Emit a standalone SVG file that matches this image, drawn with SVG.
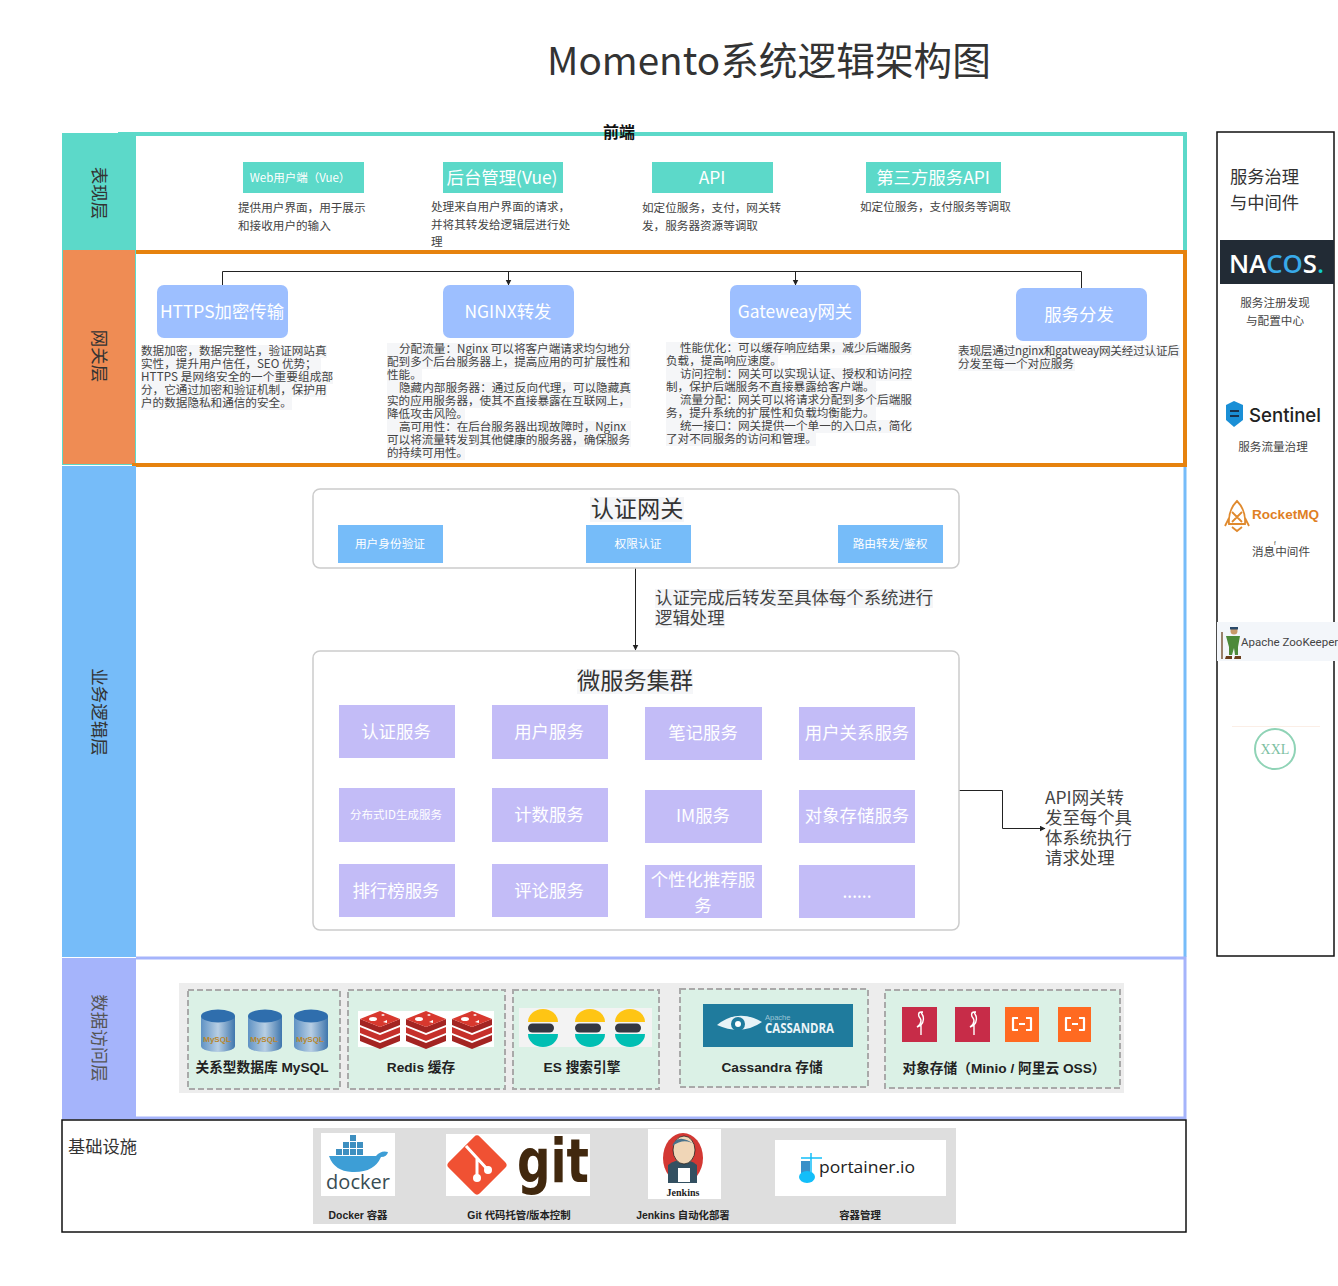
<svg xmlns="http://www.w3.org/2000/svg" width="1338" height="1286" viewBox="0 0 1338 1286">
<style>
text{font-family:"Noto Sans CJK SC","Noto Sans",sans-serif;fill:#333}
.c{text-anchor:middle}
.w{fill:#fff}
.d{font-size:11.6px;fill:#444}
.b{font-size:11.6px;fill:#444}
.v{font-size:17.5px;text-anchor:middle;fill:#333}
.box18{font-size:17.4px;fill:#fff;text-anchor:middle}
.svc{fill:#c3bcf7}
.gw{fill:#9dbfff}
.au{fill:#76bcf9}
.pt{fill:#5cd9c9}
.bg{fill:#f5f6f8}
.dash{fill:#dbf1e6;stroke:#a9a9a9;stroke-width:2;stroke-dasharray:6 3}
.lb{font-family:"Liberation Sans","Noto Sans CJK SC",sans-serif;font-weight:700;font-size:13.7px;fill:#222;text-anchor:middle}
.lb2{font-family:"Liberation Sans","Noto Sans CJK SC",sans-serif;font-weight:700;font-size:10.4px;fill:#222;text-anchor:middle}
.r{fill:none;stroke:#ccc;stroke-width:1.5}
.ln{fill:none;stroke:#222;stroke-width:1}
.note{font-size:17.4px;fill:#444}
.sd{font-size:11.6px;fill:#444;text-anchor:middle}
</style>
<defs>
<marker id="ah" markerWidth="7" markerHeight="7" refX="5.5" refY="3" orient="auto" markerUnits="userSpaceOnUse"><path d="M0 0L6 3L0 6z" fill="#222"/></marker>
<linearGradient id="cy" x1="0" x2="1" y1="0" y2="0"><stop offset="0" stop-color="#5f92c4"/><stop offset=".5" stop-color="#b8cfe4"/><stop offset="1" stop-color="#3f76ad"/></linearGradient>
<g id="mysql"><path d="M-17 -16V14A17 6 0 0 0 17 14V-16z" fill="url(#cy)"/><ellipse cx="0" cy="-16" rx="17" ry="6.500" fill="#2f6ead"/><text x="-1" y="10" class="c" style="font-size:8px;font-family:'Liberation Sans';font-weight:700;fill:#b8862c">MySQL</text></g>
<g id="redis"><path d="M-20 6L0 14L20 6V12L0 20L-20 12z" fill="#a32422"/><path d="M-20 -2L0 6L20 -2V4L0 12L-20 4z" fill="#c6302b"/><path d="M-20 -10L0 -2L20 -10V-4L0 4L-20 -4z" fill="#a32422"/><path d="M0 -18L20 -10L0 -2L-20 -10z" fill="#d8382e"/><ellipse cx="-7" cy="-10" rx="4" ry="2" fill="#fff"/><path d="M3 -15l2 1l-2 1l-2-1zM3 -7l4-2v3z" fill="#fff"/></g>
<g id="es"><path d="M-15 -6A15 13 0 0 1 15 -6z" fill="#fec514"/><rect x="-15" y="-4.500" width="26" height="9" rx="4.500" fill="#343741"/><path d="M-15 6H15A15 13 0 0 1 -15 6z" fill="#00bfb3"/></g>
<g id="minio"><path d="M2 -12c-3 0-3 4-1 6c2 3 1 6-3 9l4-2v10v-10c3-3 3-8 1-11c-1-1 0-2 1-2z" fill="none" stroke="#fff" stroke-width="1.400"/></g>
<g id="ali"><path d="M-4 -6H-9V6H-4M4 -6H9V6H4M-3 0H3" fill="none" stroke="#fff" stroke-width="2.200" stroke-linejoin="round"/></g>
</defs>
<rect width="1338" height="1286" fill="#fff"/>
<text id="title" x="547" y="75" style="font-size:38.7px;fill:#333">Momento系统逻辑架构图</text>

<g id="layer-presentation">
<rect x="62" y="133" width="74" height="117" fill="#5cd9c9"/>
<path d="M118 134H1185V250" fill="none" stroke="#5cd9c9" stroke-width="4"/>
<text class="v" transform="translate(93,193) rotate(90)">表现层</text>
<text x="619" y="138" class="c" style="font-size:16px;font-weight:700;fill:#111">前端</text>
</g>
<g id="layer-gateway">
<rect x="62.500" y="249.500" width="73" height="215" fill="#ef8c54" stroke="#5cd9c9"/>
<path d="M136 252H1185V465H132" fill="none" stroke="#e6820e" stroke-width="4"/>
<text class="v" transform="translate(93,356) rotate(90)">网关层</text>
</g>
<g id="layer-business">
<rect x="62" y="466" width="74" height="491" fill="#76bcf9"/>
<path d="M1185 467V957" fill="none" stroke="#76bcf9" stroke-width="3"/>
<text class="v" transform="translate(93,712) rotate(90)">业务逻辑层</text>
</g>
<g id="layer-data">
<rect x="62" y="958" width="74" height="160" fill="#a5b4fb"/>
<path d="M136 958H1185V1118H62" fill="none" stroke="#a5b4fb" stroke-width="3"/>
<text class="v" transform="translate(93,1038) rotate(90)" style="fill:#555">数据访问层</text>
</g>
<g id="layer-infra">
<rect x="62" y="1120" width="1124" height="112" fill="none" stroke="#111" stroke-width="1.500"/>
<text x="68" y="1153" style="font-size:17.300px">基础设施</text>
</g>

<g id="connectors">
<path class="ln" d="M222.500 285V271.500H1081.500V288"/>
<path class="ln" d="M508.500 271V285" marker-end="url(#ah)"/>
<path class="ln" d="M795.500 271V285" marker-end="url(#ah)"/>
<path class="ln" d="M635.500 568V650" marker-end="url(#ah)"/>
<path class="ln" d="M959 790.500H1002.500V828.500H1045" marker-end="url(#ah)"/>
</g>

<g id="node-web"><rect class="pt" x="243" y="162" width="121" height="31"/><text class="w c" x="300" y="182" style="font-size:11.500px">Web用户端（Vue）</text>
<text class="d" x="238" y="212">提供用户界面，用于展示</text><text class="d" x="238" y="230">和接收用户的输入</text></g>
<g id="node-admin"><rect class="pt" x="443" y="162" width="120" height="31"/><text class="box18" x="502" y="184">后台管理(Vue)</text>
<text class="d" x="431" y="211">处理来自用户界面的请求，</text><text class="d" x="431" y="229">并将其转发给逻辑层进行处</text><text class="d" x="431" y="246">理</text></g>
<g id="node-api"><rect class="pt" x="652" y="162" width="121" height="31"/><text class="box18" x="712" y="184">API</text>
<text class="d" x="642" y="212">如定位服务，支付，网关转</text><text class="d" x="642" y="230">发，服务器资源等调取</text></g>
<g id="node-third"><rect class="pt" x="866" y="162" width="135" height="31"/><text class="box18" x="933" y="184">第三方服务API</text>
<text class="d" x="860" y="211">如定位服务，支付服务等调取</text></g>

<g id="node-https"><rect class="gw" x="157" y="285" width="131" height="53" rx="7"/><text class="box18" x="222" y="318">HTTPS加密传输</text>
<path class="bg" d="M141 345H327V358H321V371H333V384H327V397H292V410H141z"/>
<text class="b" x="141" y="355">数据加密，数据完整性，验证网站真</text><text class="b" x="141" y="368">实性，提升用户信任，SEO 优势；</text><text class="b" x="141" y="381" textLength="192">HTTPS 是网络安全的一个重要组成部</text><text class="b" x="141" y="394">分，它通过加密和验证机制，保护用</text><text class="b" x="141" y="407">户的数据隐私和通信的安全。</text></g>
<g id="node-nginx"><rect class="gw" x="443" y="285" width="131" height="53" rx="7"/><text class="box18" x="508" y="318">NGINX转发</text>
<rect class="bg" x="387" y="343" width="244" height="26"/><rect class="bg" x="387" y="369" width="35" height="13"/><rect class="bg" x="387" y="382" width="244" height="26"/><rect class="bg" x="387" y="408" width="78" height="13"/><rect class="bg" x="387" y="421" width="244" height="26"/><rect class="bg" x="387" y="447" width="78" height="13"/>
<text class="b" x="399" y="353" textLength="231">分配流量：Nginx 可以将客户端请求均匀地分</text><text class="b" x="387" y="366" textLength="243">配到多个后台服务器上，提高应用的可扩展性和</text><text class="b" x="387" y="379">性能。</text><text class="b" x="399" y="392">隐藏内部服务器：通过反向代理，可以隐藏真</text><text class="b" x="387" y="405" textLength="243">实的应用服务器，使其不直接暴露在互联网上，</text><text class="b" x="387" y="418">降低攻击风险。</text><text class="b" x="399" y="431" textLength="227">高可用性：在后台服务器出现故障时，Nginx</text><text class="b" x="387" y="444" textLength="243">可以将流量转发到其他健康的服务器，确保服务</text><text class="b" x="387" y="457">的持续可用性。</text></g>
<g id="node-gateway"><rect class="gw" x="730" y="285" width="131" height="53" rx="7"/><text class="box18" x="795" y="318">Gateweay网关</text>
<rect class="bg" x="666" y="342" width="246" height="13"/><rect class="bg" x="666" y="355" width="112" height="13"/><rect class="bg" x="666" y="368" width="246" height="13"/><rect class="bg" x="666" y="381" width="210" height="13"/><rect class="bg" x="666" y="394" width="246" height="13"/><rect class="bg" x="666" y="407" width="210" height="13"/><rect class="bg" x="666" y="420" width="246" height="13"/><rect class="bg" x="666" y="433" width="150" height="13"/>
<text class="b" x="680" y="352">性能优化：可以缓存响应结果，减少后端服务</text><text class="b" x="666" y="365">负载，提高响应速度。</text><text class="b" x="680" y="378">访问控制：网关可以实现认证、授权和访问控</text><text class="b" x="666" y="391">制，保护后端服务不直接暴露给客户端。</text><text class="b" x="680" y="404">流量分配：网关可以将请求分配到多个后端服</text><text class="b" x="666" y="417">务，提升系统的扩展性和负载均衡能力。</text><text class="b" x="680" y="430">统一接口：网关提供一个单一的入口点，简化</text><text class="b" x="666" y="443">了对不同服务的访问和管理。</text></g>
<g id="node-dispatch"><rect class="gw" x="1016" y="288" width="131" height="53" rx="7"/><text class="box18" x="1079" y="321">服务分发</text>
<rect class="bg" x="958" y="345" width="222" height="13"/><rect class="bg" x="958" y="358" width="117" height="13"/>
<text class="b" x="958" y="355" textLength="221">表现层通过nginx和gatweay网关经过认证后</text><text class="b" x="958" y="368">分发至每一个对应服务</text></g>

<g id="node-auth"><rect class="r" x="313" y="489" width="646" height="79" rx="7"/>
<rect class="bg" x="590" y="497" width="94" height="25"/><text class="c" x="637" y="517" style="font-size:23.200px">认证网关</text>
<rect class="au" x="338" y="525" width="105" height="38"/><text class="w c" x="390" y="548" style="font-size:11.700px">用户身份验证</text>
<rect class="au" x="586" y="525" width="105" height="38"/><text class="w c" x="638" y="548" style="font-size:11.700px">权限认证</text>
<rect class="au" x="838" y="525" width="105" height="38"/><text class="w c" x="890" y="548" style="font-size:11.700px">路由转发/鉴权</text></g>
<g id="label-auth"><rect class="bg" x="655" y="589" width="278" height="19"/><rect class="bg" x="655" y="609" width="70" height="19"/>
<text class="note" x="655" y="604">认证完成后转发至具体每个系统进行</text><text class="note" x="655" y="624">逻辑处理</text></g>

<g id="node-cluster"><rect class="r" x="313" y="651" width="646" height="279" rx="7"/>
<rect class="bg" x="577" y="669" width="116" height="25"/><text class="c" x="635" y="689" style="font-size:23.200px">微服务集群</text></g>
<g id="svc-1"><rect class="svc" x="339" y="705" width="116" height="53"/><text class="box18" x="396" y="738">认证服务</text></g>
<g id="svc-2"><rect class="svc" x="492" y="705" width="116" height="54"/><text class="box18" x="549" y="738">用户服务</text></g>
<g id="svc-3"><rect class="svc" x="645" y="707" width="117" height="53"/><text class="box18" x="703" y="739">笔记服务</text></g>
<g id="svc-4"><rect class="svc" x="799" y="707" width="116" height="53"/><text class="box18" x="857" y="739">用户关系服务</text></g>
<g id="svc-5"><rect class="svc" x="339" y="788" width="116" height="54"/><text class="w c" x="396" y="819" style="font-size:11.500px">分布式ID生成服务</text></g>
<g id="svc-6"><rect class="svc" x="492" y="788" width="116" height="54"/><text class="box18" x="549" y="821">计数服务</text></g>
<g id="svc-7"><rect class="svc" x="645" y="790" width="117" height="53"/><text class="box18" x="703" y="822">IM服务</text></g>
<g id="svc-8"><rect class="svc" x="799" y="790" width="116" height="53"/><text class="box18" x="857" y="822">对象存储服务</text></g>
<g id="svc-9"><rect class="svc" x="339" y="864" width="116" height="53"/><text class="box18" x="396" y="897">排行榜服务</text></g>
<g id="svc-10"><rect class="svc" x="492" y="864" width="116" height="53"/><text class="box18" x="549" y="897">评论服务</text></g>
<g id="svc-11"><rect class="svc" x="645" y="865" width="117" height="53"/><text class="box18" x="703" y="886">个性化推荐服</text><text class="box18" x="703" y="912">务</text></g>
<g id="svc-12"><rect class="svc" x="799" y="865" width="116" height="53"/><text class="box18" x="857" y="898">......</text></g>
<g id="label-api"><text class="note" x="1045" y="804">API网关转</text><text class="note" x="1045" y="824">发至每个具</text><text class="note" x="1045" y="844">体系统执行</text><text class="note" x="1045" y="864">请求处理</text></g>

<g id="data-panel"><rect x="179" y="983" width="945" height="110" fill="#ededed"/></g>
<g id="node-mysql"><rect class="dash" x="188" y="990" width="152" height="99"/><use href="#mysql" x="218" y="1032"/><use href="#mysql" x="265" y="1032"/><use href="#mysql" x="311" y="1032"/><text class="lb" x="262" y="1072">关系型数据库 MySQL</text></g>
<g id="node-redis"><rect class="dash" x="348" y="990" width="157" height="99"/><rect x="358" y="1011" width="136" height="36" fill="#fff"/><use href="#redis" x="380" y="1029"/><use href="#redis" x="426" y="1029"/><use href="#redis" x="472" y="1029"/><text class="lb" x="421" y="1072">Redis 缓存</text></g>
<g id="node-es"><rect class="dash" x="513" y="990" width="146" height="99"/><rect x="519" y="1008" width="133" height="39" fill="#f3f3f3"/><use href="#es" x="543" y="1028"/><use href="#es" x="590" y="1028"/><use href="#es" x="630" y="1028"/><text class="lb" x="582" y="1072">ES 搜索引擎</text></g>
<g id="node-cassandra"><rect class="dash" x="680" y="989" width="188" height="98"/><rect x="703" y="1004" width="150" height="43" fill="#1f7b9d"/>
<path d="M717 1025Q738 1008 762 1022Q742 1036 717 1025z" fill="#e8f3f7"/><circle cx="738" cy="1024" r="7" fill="#1f7b9d"/><circle cx="738" cy="1024" r="3" fill="#fff"/>
<text x="765" y="1020" style="font-size:7.500px;fill:#9cc5d6;font-family:'Liberation Sans'">Apache</text><text x="765" y="1033" style="font-size:13.500px;font-weight:700;fill:#eaf4f8;font-family:'Open Sans'" textLength="69" lengthAdjust="spacingAndGlyphs">CASSANDRA</text>
<text class="lb" x="772" y="1072">Cassandra 存储</text></g>
<g id="node-oss"><rect class="dash" x="885" y="990" width="235" height="98"/>
<rect x="902" y="1007" width="35" height="35" fill="#c72c48"/><use href="#minio" x="919" y="1024"/><rect x="955" y="1007" width="35" height="35" fill="#c72c48"/><use href="#minio" x="972" y="1024"/><rect x="1005" y="1007" width="34" height="35" fill="#ff6a21"/><use href="#ali" x="1022" y="1024"/><rect x="1058" y="1007" width="33" height="35" fill="#ff6a21"/><use href="#ali" x="1075" y="1024"/>
<text class="lb" x="1004" y="1073">对象存储（Minio / 阿里云 OSS）</text></g>

<g id="infra-panel"><rect x="313" y="1128" width="643" height="96" fill="#dedede"/></g>
<g id="node-docker"><rect x="321" y="1133" width="74" height="63" fill="#fff"/>
<path d="M329 1156H376Q381 1150 388 1152Q387 1157 381 1157Q374 1173 352 1172Q334 1171 329 1156z" fill="#3d9ed6"/>
<g fill="#3e8fc0"><rect x="336" y="1149" width="6" height="6"/><rect x="343" y="1149" width="6" height="6"/><rect x="350" y="1149" width="6" height="6"/><rect x="357" y="1149" width="6" height="6"/><rect x="343" y="1142" width="6" height="6"/><rect x="350" y="1142" width="6" height="6"/><rect x="357" y="1142" width="6" height="6"/><rect x="350" y="1135" width="6" height="6"/></g>
<text x="358" y="1189" class="c" style="font-size:20px;fill:#394d54;font-family:'Open Sans'">docker</text>
<text class="lb2" x="358" y="1219">Docker 容器</text></g>
<g id="node-git"><rect x="446" y="1134" width="144" height="62" fill="#fff"/>
<rect x="455" y="1143" width="44" height="44" rx="4" fill="#f05133" transform="rotate(45 477 1165)"/><path d="M466 1146L488 1170M477 1158V1176" fill="none" stroke="#fff" stroke-width="3"/><circle cx="477" cy="1178" r="4" fill="#fff"/><circle cx="488" cy="1170" r="4" fill="#fff"/>
<text x="553" y="1182" class="c" style="font-size:60px;font-weight:700;fill:#41280e;font-family:'DejaVu Sans'" textLength="72" lengthAdjust="spacingAndGlyphs">git</text>
<text class="lb2" x="519" y="1219">Git 代码托管/版本控制</text></g>
<g id="node-jenkins"><rect x="648" y="1129" width="73" height="70" fill="#fff"/>
<ellipse cx="683" cy="1158" rx="20" ry="25" fill="#d33833"/><path d="M668 1183V1165Q683 1154 697 1165V1183z" fill="#335061"/><ellipse cx="684" cy="1150" rx="11" ry="14" fill="#f0d6b7" stroke="#231f20" stroke-width=".8"/><path d="M672 1146Q678 1132 695 1145Q685 1137 672 1146z" fill="#49728b"/><rect x="678" y="1168" width="12" height="14" fill="#fff"/>
<text x="683" y="1196" class="c" style="font-size:10px;font-weight:700;fill:#222;font-family:'Liberation Serif'">Jenkins</text>
<text class="lb2" x="683" y="1219">Jenkins 自动化部署</text></g>
<g id="node-portainer"><rect x="775" y="1140" width="171" height="56" fill="#fff"/>
<path d="M811 1153V1182M801 1158H822" stroke="#13bef9" stroke-width="1.500" fill="none"/><rect x="801" y="1161" width="9" height="12" fill="#3a90c8"/><ellipse cx="807" cy="1177" rx="8" ry="6" fill="#13bef9"/>
<text x="819" y="1173" style="font-size:17px;fill:#222;font-family:'Open Sans'" textLength="96" lengthAdjust="spacingAndGlyphs">portainer.io</text>
<text class="lb2" x="860" y="1219">容器管理</text></g>

<g id="side-panel"><rect x="1217" y="132" width="117" height="824" fill="none" stroke="#111" stroke-width="1.500"/>
<text x="1230" y="183" style="font-size:17.300px">服务治理</text><text x="1230" y="209" style="font-size:17.300px">与中间件</text></g>
<g id="side-nacos"><rect x="1220" y="240" width="114" height="44" fill="#222b35"/>
<text x="1229" y="273" style="font-size:25px;font-weight:600;fill:#fff;font-family:'Open Sans'" textLength="95" lengthAdjust="spacingAndGlyphs">NA<tspan fill="#38a9e8">CO</tspan>S<tspan fill="#1cc">.</tspan></text>
<text class="sd" x="1275" y="307">服务注册发现</text><text class="sd" x="1275" y="325">与配置中心</text></g>
<g id="side-sentinel"><path d="M1226 405L1234 401L1243 405V420L1234 427L1226 420z" fill="#1a8fd6"/><path d="M1230 411H1239M1230 416H1239" stroke="#16324f" stroke-width="2"/>
<text x="1249" y="422" style="font-size:19px;font-weight:500;fill:#222;font-family:'Inter'" textLength="72" lengthAdjust="spacingAndGlyphs">Sentinel</text>
<text class="sd" x="1273" y="451">服务流量治理</text></g>
<g id="side-rocketmq"><path d="M1237 501Q1246 510 1245 524H1229Q1228 510 1237 501zM1225 526L1229 518M1249 526L1245 518M1232 527L1237 531L1242 527M1232 512L1242 522M1242 512L1232 522" fill="none" stroke="#e08a2e" stroke-width="1.800"/>
<text x="1252" y="519" style="font-size:13px;font-weight:700;fill:#e07f24;font-family:'Liberation Sans'" textLength="67" lengthAdjust="spacingAndGlyphs">RocketMQ</text>
<text x="1274" y="545" style="font-size:6px;fill:#444;font-family:'Liberation Sans'">f</text>
<text class="sd" x="1281" y="556">消息中间件</text></g>
<g id="side-zookeeper"><rect x="1217" y="622" width="121" height="39" fill="#f3f6fa"/>
<path d="M1222 632V659" stroke="#7b5a3a" stroke-width="1.500"/><circle cx="1234" cy="631" r="3.500" fill="#c89a6a"/><path d="M1226 636H1240L1238 647V655H1235L1234 648L1232 655H1229V647z" fill="#4d8a3a"/><path d="M1225 659H1232V656H1226zM1234 659H1241V656H1235z" fill="#6b3f1d"/><rect x="1230" y="627" width="8" height="2.500" fill="#2a4a6a"/>
<text x="1241" y="646" style="font-size:11.500px;fill:#444;font-family:'Roboto'">Apache ZooKeeper</text></g>
<g id="side-xxl"><path d="M1232 726.500H1320" stroke="#fbeee6"/><circle cx="1275" cy="749" r="20" fill="none" stroke="#8fd3b6" stroke-width="2"/><text class="c" x="1275" y="754" style="font-size:14px;fill:#7cc0a2;font-family:'Liberation Serif'">XXL</text></g>
</svg>
